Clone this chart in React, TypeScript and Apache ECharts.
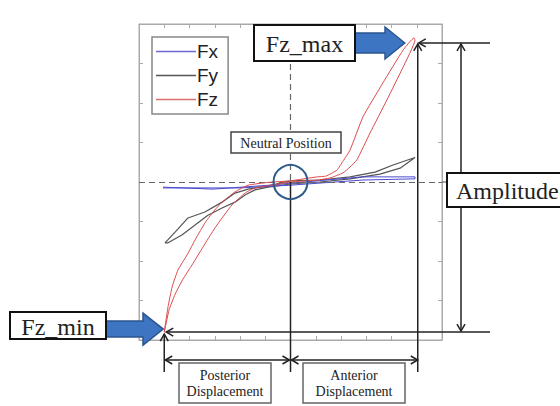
import React, { useEffect, useRef } from "react";
import * as echarts from "echarts";

// ---- data ----
// Fz: loading branch (min -> max) then unloading branch (max -> min)
const fzX = [-5.0, -4.81, -4.57, -4.26, -3.9, -3.47, -2.99, -2.32, -1.8, -1.41, -0.73, 0, 1.05, 1.56, 2.08, 2.36, 2.63, 3.15, 3.82, 4.46, 4.93,
  4.89, 4.46, 3.66, 2.87, 2.36, 2.08, 1.84, 1.41, 1.05, 0, -0.89, -1.68, -2.2, -2.71, -3.07, -3.39, -3.74, -4.1, -4.46, -4.69, -4.85, -5.0];
const fzY = [-3.8, -3.24, -2.84, -2.46, -2.1, -1.65, -1.16, -0.58, -0.28, -0.15, -0.08, 0, 0.05, 0.1, 0.23, 0.38, 0.56, 1.24, 2.08, 2.91, 3.59,
  3.65, 3.34, 2.51, 1.65, 0.81, 0.53, 0.3, 0.15, 0.13, 0.03, -0.01, -0.08, -0.25, -0.51, -0.76, -1.04, -1.42, -1.85, -2.23, -2.66, -3.16, -3.8];
const fyX = [-4.97, -4.57, -4.06, -3.39, -2.71, -2.2, -1.68, -0.89, 0, 1.17, 2.36, 3.35, 4.06, 4.93, 4.34, 3.54, 2.36, 1.17, 0, -0.89, -1.41, -1.8, -2.2, -2.71, -3.27, -3.78, -4.3, -4.85, -4.97];
const fyY = [-1.54, -1.27, -0.91, -0.76, -0.51, -0.28, -0.18, -0.1, 0.03, 0.05, 0.13, 0.25, 0.43, 0.62, 0.35, 0.2, 0.08, 0.0, -0.05, -0.13, -0.2, -0.33, -0.51, -0.66, -0.84, -1.09, -1.34, -1.54, -1.54];
const fxX = [-5.05, -3.07, -0.81, 0, 2.87, 4.93, 4.93, 2.87, 0, -2.0, -5.05];
const fxY = [-0.13, -0.18, -0.08, -0.03, 0.13, 0.13, 0.08, 0.05, -0.08, -0.15, -0.15];
const seriesNames = ["Fx", "Fy", "Fz"];
const xRange = [-6, 6];
const yRange = [-4, 4];
const fzMinPoint = [-5, -3.8];
const fzMaxPoint = [5, 3.52];

const zip = (xs: number[], ys: number[]) => xs.map((x, i) => [x, ys[i]]);

export default function App() {
  const ref = useRef<HTMLDivElement>(null);
  useEffect(() => {
    if (!ref.current) return;
    const chart = echarts.init(ref.current, null, { renderer: "svg" });
    const axisCommon = {
      type: "value" as const,
      interval: 1,
      axisLine: { show: true, onZero: false, lineStyle: { color: "#aaa", width: 1 } },
      axisTick: { show: true, inside: true, length: 4, lineStyle: { color: "#aaa" } },
      axisLabel: { show: false },
      splitLine: { show: false },
    };
    const grid = { left: 139, top: 24, width: 303, height: 316 };
    chart.setOption({
      animation: false,
      backgroundColor: "#fff",
      grid: { ...grid, show: false },
      xAxis: [
        { ...axisCommon, min: xRange[0], max: xRange[1], position: "bottom" },
        { ...axisCommon, min: xRange[0], max: xRange[1], position: "top" },
      ],
      yAxis: [
        { ...axisCommon, min: yRange[0], max: yRange[1], position: "left" },
        { ...axisCommon, min: yRange[0], max: yRange[1], position: "right" },
      ],
      legend: {
        orient: "vertical",
        left: 152,
        top: 37,
        data: seriesNames,
        icon: "rect",
        itemWidth: 40,
        itemHeight: 1.3,
        itemGap: 5,
        padding: [5, 10, 5, 4],
        borderColor: "#888",
        borderWidth: 1.5,
        backgroundColor: "#fff",
        textStyle: { fontSize: 19, fontFamily: "Liberation Sans, Arial, sans-serif", color: "#222", padding: [0, 0, 0, -4] },
      },
      series: [
        {
          name: "Fx",
          type: "line",
          symbol: "none",
          data: zip(fxX, fxY),
          lineStyle: { color: "#4a4ad0", width: 1 },
          itemStyle: { color: "#6a6ad8" },
          z: 4,
          markLine: {
            silent: true,
            symbol: "none",
            label: { show: false },
            lineStyle: { color: "#666", type: [6, 4], width: 1.2 },
            data: [
              [{ coord: [0, yRange[1]] }, { coord: [0, 0] }],
              [{ coord: [xRange[0], 0] }, { coord: [xRange[1], 0] }],
            ],
          },
        },
        {
          name: "Fy",
          type: "line",
          symbol: "none",
          data: zip(fyX, fyY),
          lineStyle: { color: "#555", width: 1.2 },
          itemStyle: { color: "#555" },
          z: 3,
        },
        {
          name: "Fz",
          type: "line",
          symbol: "none",
          smooth: 0.12,
          data: zip(fzX, fzY),
          lineStyle: { color: "#dc4a4a", width: 1 },
          itemStyle: { color: "#e07070" },
          z: 5,
        },
      ],
    });

    const px = (p: number[]) => chart.convertToPixel({ gridIndex: 0 }, p) as number[];
    const tl = px([xRange[0], yRange[1]]);
    const br = px([xRange[1], yRange[0]]);
    const center = px([0, 0]);
    const minP = px(fzMinPoint);
    const maxP = px(fzMaxPoint);
    const bottomY = 372;
    const dispY = 360;
    const ampX = 461;
    const rightEnd = 490;
    const ink = "#222";
    const lw = 1.5;
    const line = (x1: number, y1: number, x2: number, y2: number) => ({
      type: "line", shape: { x1, y1, x2, y2 }, style: { stroke: ink, lineWidth: lw }, z: 10,
    });
    const head = (x: number, y: number, dir: "l" | "r" | "u" | "d") => {
      const s = 7, w = 4;
      let pts: number[][] = [];
      if (dir === "l") pts = [[x + s, y - w], [x, y], [x + s, y + w]];
      if (dir === "r") pts = [[x - s, y - w], [x, y], [x - s, y + w]];
      if (dir === "u") pts = [[x - w, y + s], [x, y], [x + w, y + s]];
      if (dir === "d") pts = [[x - w, y - s], [x, y], [x + w, y - s]];
      return { type: "polyline", shape: { points: pts }, style: { stroke: ink, lineWidth: lw, fill: null }, z: 10 };
    };
    const blueArrow = (x0: number, x1: number, tip: number, cy: number, bh: number, hh: number) => ({
      type: "polygon",
      shape: {
        points: [
          [x0, cy - bh], [x1, cy - bh], [x1, cy - hh], [tip, cy], [x1, cy + hh], [x1, cy + bh], [x0, cy + bh],
        ],
      },
      style: { fill: "#3d75c2", stroke: "#2b5590", lineWidth: 1.5 },
      z: 11,
    });
    const box = (x: number, y: number, w: number, h: number, stroke: string, lwid: number) => ({
      type: "rect", shape: { x, y, width: w, height: h }, style: { fill: "#fff", stroke, lineWidth: lwid }, z: 12,
    });
    const text = (x: number, y: number, t: string, size: number, align = "center", lh?: number) => ({
      type: "text", x, y, z: 13,
      style: {
        text: t, fill: "#222", font: `${size}px "Liberation Serif", "Times New Roman", serif`,
        align, verticalAlign: "middle", lineHeight: lh,
      },
    });

    chart.setOption({
      graphic: [
        // grid frame
        { type: "rect", shape: { x: tl[0], y: tl[1], width: br[0] - tl[0], height: br[1] - tl[1] }, style: { fill: null, stroke: "#aaa", lineWidth: 1 }, z: 1, silent: true },
        // dashed extension past frame
        { type: "line", shape: { x1: br[0], y1: center[1], x2: br[0] + 6, y2: center[1] }, style: { stroke: "#666", lineWidth: 1.2, lineDash: [6, 4] }, z: 9 },
        // centre solid line
        line(center[0], center[1], center[0], bottomY),
        // neutral circle
        { type: "circle", shape: { cx: center[0], cy: center[1], r: 17 }, style: { fill: null, stroke: "#2f5b8c", lineWidth: 2 }, z: 10 },
        // Fz_min horizontal
        line(minP[0] + 2, minP[1], rightEnd, minP[1]),
        head(minP[0] + 2, minP[1], "l"),
        // Fz_max horizontal
        line(maxP[0] + 2, maxP[1], rightEnd, maxP[1]),
        head(maxP[0] + 2, maxP[1], "l"),
        // left vertical
        line(minP[0], minP[1] + 2, minP[0], bottomY),
        head(minP[0], minP[1] + 2, "u"),
        // right vertical
        line(maxP[0] + 1, maxP[1] + 1, maxP[0] + 1, bottomY),
        head(maxP[0] + 1, maxP[1] + 1, "u"),
        // amplitude arrow
        line(ampX, maxP[1] + 1, ampX, minP[1] - 1),
        head(ampX, maxP[1] + 1, "u"),
        head(ampX, minP[1] - 1, "d"),
        // displacement arrows
        line(minP[0] + 1, dispY, center[0] - 1, dispY),
        head(minP[0] + 1, dispY, "l"),
        head(center[0] - 1, dispY, "r"),
        line(center[0] + 1, dispY, maxP[0] + 1, dispY),
        head(center[0] + 1, dispY, "l"),
        head(maxP[0] + 1, dispY, "r"),
        // Fz_max label + arrow
        blueArrow(354, 385, maxP[0] - 12, maxP[1], 10, 16),
        box(254, 25, 101, 36, "#111", 2),
        text(304.5, 44, "Fz_max", 24),
        // Fz_min label + arrow
        blueArrow(105, 143, minP[0] - 1, minP[1] - 3, 8, 16),
        box(10, 312, 96, 27, "#111", 2),
        text(58, 326.5, "Fz_min", 24),
        // Amplitude
        box(447, 173, 140, 34, "#111", 2),
        text(456, 191, "Amplitude", 24, "left"),
        // Neutral Position
        box(231, 132, 110, 21, "#444", 1.5),
        text(286, 143, "Neutral Position", 14),
        // Displacement boxes
        box(179, 363, 92, 40, "#666", 1.5),
        text(225, 383.5, "Posterior\nDisplacement", 14, "center", 16),
        box(303, 363, 102, 40, "#666", 1.5),
        text(354, 383.5, "Anterior\nDisplacement", 14, "center", 16),
      ],
    });
    return () => chart.dispose();
  }, []);
  return (
    <div
      ref={ref}
      style={{ position: "fixed", left: 0, top: 0, width: 560, height: 406, background: "#fff" }}
    />
  );
}
